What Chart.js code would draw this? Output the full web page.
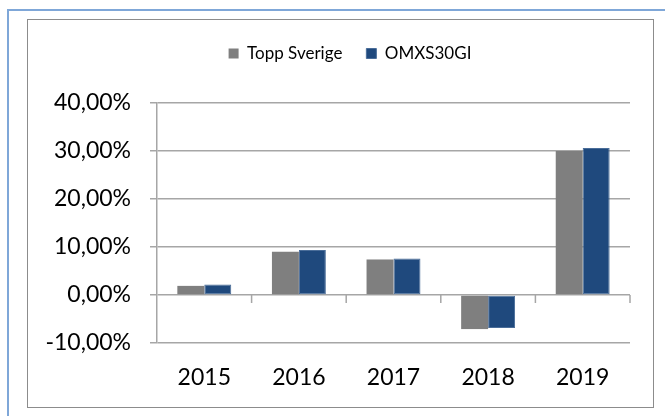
<!DOCTYPE html>
<html>
<head>
<meta charset="utf-8">
<script src="https://cdn.jsdelivr.net/npm/chart.js@4.4.1/dist/chart.umd.min.js"></script>
<style>
  body { margin: 0; background: #fff; }
  #wrap { position: relative; width: 665px; height: 416px; overflow: hidden; }
  #blueTop { position: absolute; left: 7px; top: 9px; width: 660px; height: 2px; background: #7FA7D8; }
  #blueLeft { position: absolute; left: 7px; top: 9px; width: 2px; height: 410px; background: #7FA7D8; }
  #frame { position: absolute; left: 27px; top: 19px; width: 625px; height: 387px; border: 1.5px solid #8C8C8C; }
  #myChart { position: absolute; left: 0; top: 0; }
</style>
</head>
<body>
<div id="wrap">
  <div id="blueTop"></div>
  <div id="blueLeft"></div>
  <div id="frame"></div>
  <canvas id="myChart" width="665" height="416"></canvas>
</div>
<script>
// years on the x axis
const years = ['2015', '2016', '2017', '2018', '2019'];
// yearly return in percent
const toppSverige = [1.9, 9.0, 7.4, -7.1, 30.0];
const omxs30gi = [2.2, 9.4, 7.6, -6.9, 30.6];
// y axis range
const yMin = -10;
const yMax = 40;
const yStep = 10;

const gridColor = '#A6A6A6';
const fontName = 'Lato';

// small tick marks on the zero line between the years
const zeroTicks = {
  id: 'zeroTicks',
  afterDatasetsDraw(chart) {
    const x = chart.scales.x;
    const y0 = chart.scales.y.getPixelForValue(0);
    const ctx = chart.ctx;
    ctx.save();
    ctx.strokeStyle = gridColor;
    ctx.lineWidth = 1.5;
    ctx.beginPath();
    for (let i = 0; i < years.length; i++) {
      const px = x.getPixelForValue(i) + (x.getPixelForValue(1) - x.getPixelForValue(0)) / 2;
      ctx.moveTo(px, y0);
      ctx.lineTo(px, y0 + 8);
    }
    ctx.stroke();
    ctx.restore();
  }
};

// push the plot down below the legend and move the legend a bit right
const legendGap = {
  id: 'legendGap',
  afterInit(chart) {
    const lg = chart.legend;
    const fit = lg.fit;
    lg.fit = function () {
      fit.call(this);
      this.height += 31;
    };
  },
  afterLayout(chart) {
    chart.legend.left += 35;
    chart.legend.right += 35;
  }
};

const ctx = document.getElementById('myChart');
new Chart(ctx, {
  type: 'bar',
  data: {
    labels: years,
    datasets: [{
      label: 'Topp Sverige',
      data: toppSverige,
      backgroundColor: '#7F7F7F',
      borderWidth: 0
    }, {
      label: 'OMXS30GI',
      data: omxs30gi,
      backgroundColor: '#1F497D',
      borderColor: '#4A6D99',
      borderWidth: 1,
      borderSkipped: false
    }]
  },
  options: {
    responsive: false,
    animation: false,
    categoryPercentage: 0.57,
    barPercentage: 1,
    layout: { padding: { left: 0, right: 35, top: 21, bottom: 0 } },
    plugins: {
      legend: {
        position: 'top',
        labels: {
          boxWidth: 10,
          boxHeight: 10,
          padding: 24,
          color: '#000',
          font: { family: fontName, size: 17 }
        }
      },
      tooltip: { enabled: false }
    },
    scales: {
      x: {
        grid: { display: false },
        border: { display: false },
        ticks: { color: '#000', padding: 13, font: { family: fontName, size: 23 } },
        afterFit(scale) { scale.height = 73; }
      },
      y: {
        min: yMin,
        max: yMax,
        grid: { color: gridColor, lineWidth: 1.5, tickLength: 7 },
        border: { display: true, color: gridColor, width: 1.5 },
        ticks: {
          stepSize: yStep,
          color: '#000',
          padding: 19,
          font: { family: fontName, size: 23 },
          callback: function (value) {
            return value.toFixed(2).replace('.', ',') + '%';
          }
        },
        afterFit(scale) { scale.width = 157; }
      }
    }
  },
  plugins: [zeroTicks, legendGap]
});
</script>
</body>
</html>
